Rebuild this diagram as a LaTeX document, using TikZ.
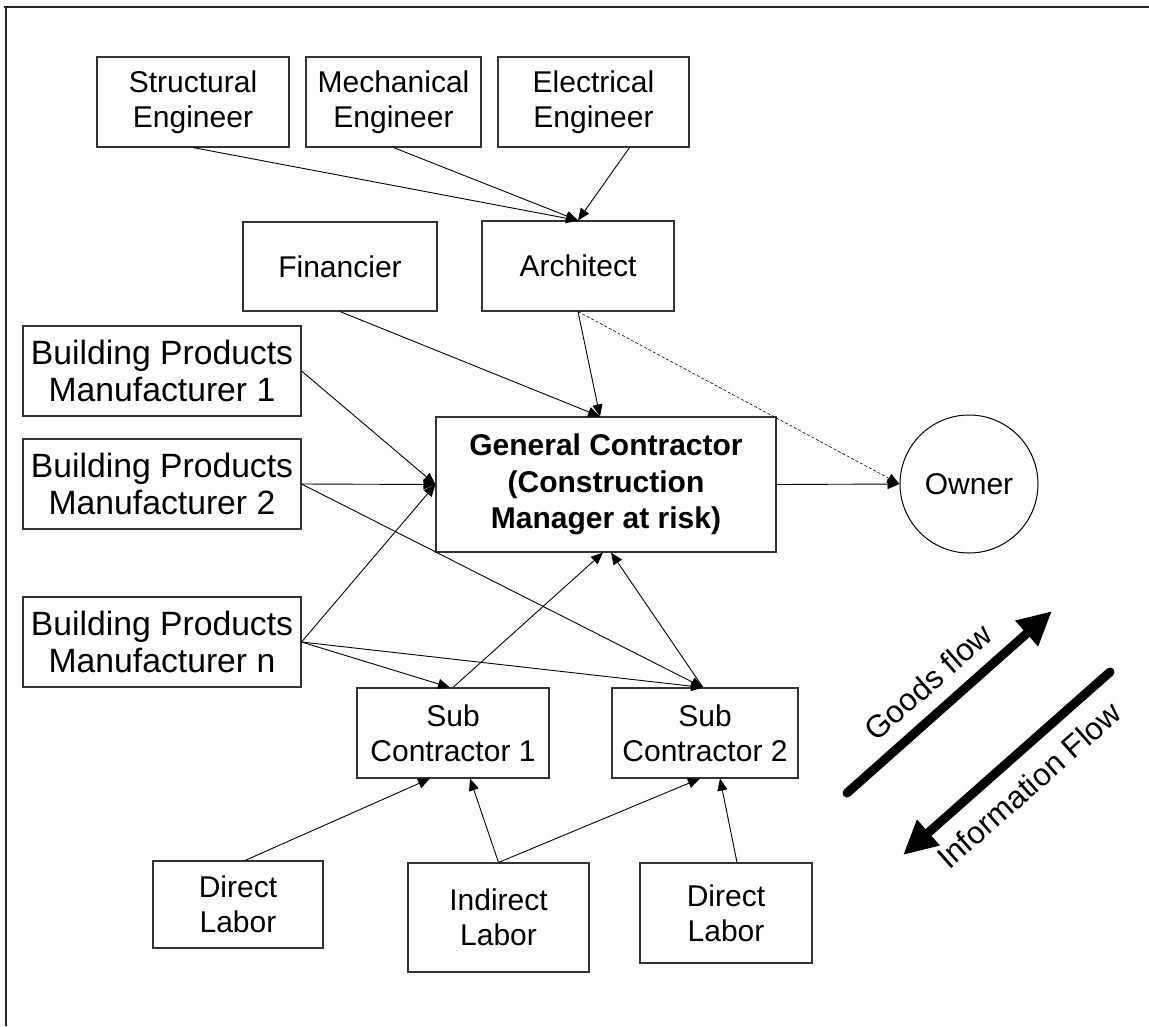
\documentclass[tikz,border=0pt]{standalone}
\usepackage{fontspec}
\setmainfont{Liberation Sans}
\usetikzlibrary{arrows.meta,calc}
\begin{document}
\begin{tikzpicture}[x=1pt,y=-1pt,
  box/.style={draw=black!80,line width=1.1pt,rectangle,align=center,inner sep=0pt,
    font=\fontsize{30}{35}\selectfont},
  bigbox/.style={box,font=\fontsize{33.7}{37}\selectfont},
  circ/.style={draw=black,line width=1pt,circle,inner sep=0pt,font=\fontsize{30}{35}\selectfont},
  conn/.style={draw=black,line width=0.9pt,-{Triangle[length=12pt,width=10pt]}},
  dconn/.style={conn,dashed,dash pattern=on 3pt off 2pt,line width=0.6pt},
  bigarrow/.style={draw=black,line width=9pt,line cap=round,-{Triangle[length=34pt,width=32pt]}},
  flowtext/.style={font=\fontsize{31.5}{36}\selectfont,rotate=41.5,inner sep=0pt}
]
\useasboundingbox (0,0) rectangle (1149,1026);
\draw[line width=1.2pt,black!85] (4,7) -- (1149,7);
\draw[line width=1.2pt,black!85] (6,7) -- (6,1026);

\node[box,minimum width=192pt,minimum height=90pt] (se) at (193,102) {Structural\\Engineer};
\node[box,minimum width=175pt,minimum height=90pt] (me) at (393.5,102) {Mechanical\\Engineer};
\node[box,minimum width=191pt,minimum height=90pt] (ee) at (593.5,102) {Electrical\\Engineer};
\node[box,minimum width=194pt,minimum height=89pt] (fin) at (340,266.5) {Financier};
\node[box,minimum width=192pt,minimum height=90pt] (arch) at (578,266) {Architect};
\node[bigbox,minimum width=278pt,minimum height=90pt] (bpm1) at (162,371) {Building Products\\Manufacturer 1};
\node[bigbox,minimum width=278pt,minimum height=90pt] (bpm2) at (162,484) {Building Products\\Manufacturer 2};
\node[bigbox,minimum width=278pt,minimum height=90pt] (bpmn) at (162,642) {Building Products\\Manufacturer n};
\node[box,minimum width=340pt,minimum height=135pt,font=\fontsize{30}{36.5}\selectfont\bfseries] (gc) at (606,484.5) {General Contractor\\(Construction\\Manager at risk)};
\node[circ,minimum size=138pt] (own) at (969,484) {Owner};
\node[box,minimum width=192pt,minimum height=90pt] (sub1) at (453,733) {Sub\\Contractor 1};
\node[box,minimum width=186pt,minimum height=90pt] (sub2) at (705,733) {Sub\\Contractor 2};
\node[box,minimum width=170pt,minimum height=87pt] (dl1) at (238,904.5) {Direct\\Labor};
\node[box,minimum width=181pt,minimum height=109pt] (il) at (498.5,917.5) {Indirect\\Labor};
\node[box,minimum width=172pt,minimum height=100pt] (dl2) at (726,913) {Direct\\Labor};

% engineers to architect
\draw[conn] (se.south) -- (arch.north);
\draw[conn] (me.south) -- (arch.north);
\draw[conn] ($(ee.south)+(36,0)$) -- (arch.north);
% financier, architect to GC
\draw[conn] (fin.south) -- ($(gc.north)+(-6,0)$);
\draw[conn] (arch.south) -- ($(gc.north)+(-6,0)$);
\draw[dconn] (arch.south) -- (own.west);
% manufacturers to GC
\draw[conn] (bpm1.east) -- (gc.west);
\draw[conn] (bpm2.east) -- (gc.west);
\draw[conn] (bpmn.east) -- (gc.west);
\draw[conn] (gc.east) -- (own.west);
% manufacturers to subs
\draw[conn] (bpmn.east) -- ($(sub1.north)+(-3,0)$);
\draw[conn] (bpmn.east) -- ($(sub2.north)+(-2,0)$);
\draw[conn] (bpm2.east) -- ($(sub2.north)+(-2,0)$);
% subs to GC
\draw[conn] (sub1.north) -- ($(gc.south)+(-3,0)$);
\draw[conn] ($(sub2.north)+(-2,0)$) -- ($(gc.south)+(5,0)$);
% labor to subs
\draw[conn] ($(dl1.north)+(7,0)$) -- ($(sub1.south)+(-23,0)$);
\draw[conn] (il.north) -- ($(sub1.south)+(17,0)$);
\draw[conn] (il.north) -- ($(sub2.south)+(-5,0)$);
\draw[conn] ($(dl2.north)+(11,0)$) -- ($(sub2.south)+(15,0)$);

% flow arrows
\coordinate (gs) at (847,793);
\coordinate (ge) at (1052,611);
\coordinate (is) at (1110,672);
\coordinate (ie) at (903,855);
\draw[bigarrow] (gs) -- (ge);
\draw[bigarrow] (is) -- (ie);
\node[flowtext] (gtxt) at (928,682) {Goods flow};
\node[flowtext] (itxt) at (1029,785) {Information Flow};
\end{tikzpicture}
\end{document}
